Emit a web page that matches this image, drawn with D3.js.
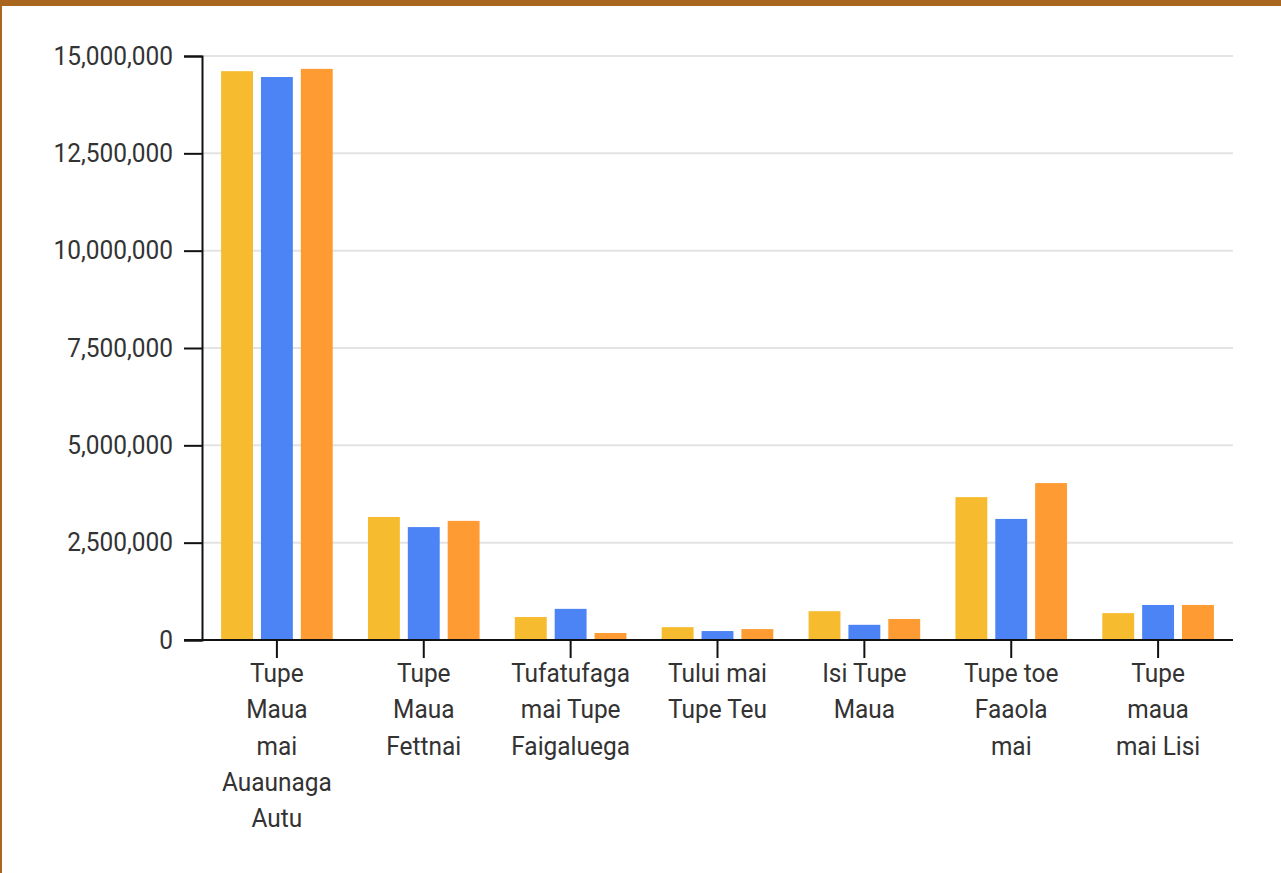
<!DOCTYPE html>
<html>
<head>
<meta charset="utf-8">
<script src="https://cdn.jsdelivr.net/npm/d3@7"></script>
<style>
  html, body { margin: 0; padding: 0; background: #fff; }
  body { width: 1281px; height: 873px; overflow: hidden; box-sizing: border-box;
         border-top: 6px solid #A8661F; border-left: 2px solid #A8661F; }
  svg { display: block; position: absolute; left: 0; top: 0; }
  text { font-family: Roboto, "Noto Sans", sans-serif; }
</style>
</head>
<body>
<svg id="chart" width="1281" height="873"></svg>
<script>
const categories = [
  "Tupe Maua mai Auaunaga Autu",
  "Tupe Maua Fettnai",
  "Tufatufaga mai Tupe Faigaluega",
  "Tului mai Tupe Teu",
  "Isi Tupe Maua",
  "Tupe toe Faaola mai",
  "Tupe maua mai Lisi"
];
const seriesNames = ["A", "B", "C"];
const seriesA = [14610000, 3160000, 590000, 330000, 740000, 3670000, 690000];
const seriesB = [14460000, 2900000, 800000, 230000, 390000, 3110000, 900000];
const seriesC = [14670000, 3060000, 180000, 280000, 540000, 4030000, 900000];
const yTicks = [0, 2500000, 5000000, 7500000, 10000000, 12500000, 15000000];
const colors = ["#F6BB2F", "#4C83F5", "#FE9B32"];

const svg = d3.select("#chart");
const mLeft = 202, mRight = 1233, mTop = 56, mBottom = 640;
const FONT = 26, SQUEEZE = 0.94;

const x0 = d3.scaleBand().domain(categories).range([mLeft, mRight]).paddingInner(0.24).paddingOuter(0.13);
const x1 = d3.scaleBand().domain(seriesNames).range([0, x0.bandwidth()]).paddingInner(0.2).paddingOuter(0);
const y = d3.scaleLinear().domain([0, 15000000]).range([mBottom, mTop]);

// gridlines
svg.append("g").selectAll("line").data(yTicks.filter(d => d > 0)).join("line")
  .attr("x1", mLeft).attr("x2", mRight)
  .attr("y1", d => y(d)).attr("y2", d => y(d))
  .attr("stroke", "#e3e3e3").attr("stroke-width", 2);

// bars
const series = [seriesA, seriesB, seriesC];
const groups = svg.append("g").selectAll("g").data(categories).join("g")
  .attr("transform", d => `translate(${x0(d)},0)`);
groups.selectAll("rect").data((c, i) => series.map((s, k) => ({ key: seriesNames[k], v: s[i], k })))
  .join("rect")
  .attr("x", d => x1(d.key))
  .attr("width", x1.bandwidth())
  .attr("y", d => y(d.v))
  .attr("height", d => y(0) - y(d.v))
  .attr("fill", d => colors[d.k]);

function squeeze(sel) {
  sel.each(function() {
    const w = this.getComputedTextLength();
    d3.select(this).attr("textLength", w * SQUEEZE).attr("lengthAdjust", "spacingAndGlyphs");
  });
}

// y axis
const yAxis = svg.append("g").attr("transform", `translate(${mLeft},0)`)
  .call(d3.axisLeft(y).tickValues(yTicks).tickSize(18).tickPadding(11).tickFormat(d3.format(",")));
yAxis.select(".domain").attr("stroke", "#111").attr("stroke-width", 2);
yAxis.selectAll(".tick line").attr("stroke", "#111").attr("stroke-width", 2);
yAxis.selectAll(".tick text").attr("fill", "#333").style("font-size", FONT + "px").attr("font-family", "Roboto")
  .call(squeeze);

// x axis
const xAxis = svg.append("g").attr("transform", `translate(0,${mBottom})`)
  .call(d3.axisBottom(x0).tickSize(18).tickSizeOuter(0).tickPadding(10));
xAxis.select(".domain").attr("stroke", "#111").attr("stroke-width", 2)
  .attr("d", `M${mLeft - 18},0H${mRight}`);
xAxis.selectAll(".tick line").attr("stroke", "#111").attr("stroke-width", 2);
xAxis.selectAll(".tick text").attr("fill", "#333").style("font-size", FONT + "px").attr("font-family", "Roboto")
  .each(function(d) { wrap(d3.select(this), d, 104 / SQUEEZE); });

function wrap(text, str, width) {
  const words = str.split(/\s+/);
  text.text(null);
  const lines = [];
  let line = [];
  const probe = text.append("tspan");
  words.forEach(w => {
    const test = line.concat([w]).join(" ");
    probe.text(test);
    if (probe.node().getComputedTextLength() > width && line.length) {
      lines.push(line.join(" "));
      line = [w];
    } else {
      line = line.concat([w]);
    }
  });
  lines.push(line.join(" "));
  probe.remove();
  text.attr("y", null).attr("dy", null);
  lines.forEach((l, i) => {
    text.append("tspan").attr("x", 0).attr("y", 42 + i * 36.3).text(l).call(squeeze);
  });
}
</script>
</body>
</html>
